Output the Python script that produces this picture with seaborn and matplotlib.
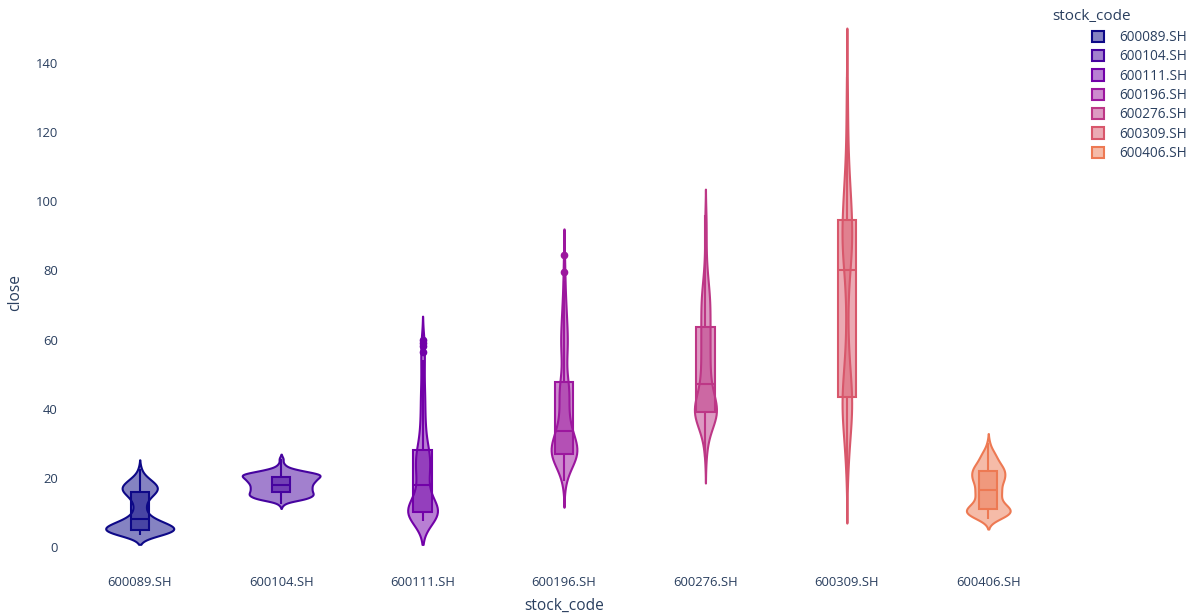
import numpy as np
import pandas as pd
import matplotlib
matplotlib.use("Agg")
import matplotlib.pyplot as plt
import seaborn as sns
from matplotlib.colors import to_rgba
from matplotlib.patches import Patch

# ---- data (close values, with their frequencies) ----
stocks = ["600089.SH", "600104.SH", "600111.SH", "600196.SH",
          "600276.SH", "600309.SH", "600406.SH"]
colors = ["#0d0887", "#46039f", "#7201a8", "#9c179e",
          "#bd3786", "#d8576b", "#ed7953"]

close_600089 = [3.5, 4, 5, 6, 7, 8, 9, 10, 11, 12, 13, 14, 15, 16, 17, 18, 19, 20, 21, 22.5]
count_600089 = [4, 10, 15, 12, 8, 5, 3, 2, 2, 2, 2, 3, 4, 6, 7, 6, 4, 3, 1, 1]

close_600104 = [12.5, 13.5, 14, 15, 16, 17, 18, 19, 20, 21, 22, 23, 24, 25.5]
count_600104 = [1, 2, 8, 11, 10, 10, 10, 11, 12, 14, 7, 2, 1, 1]

close_600111 = [7.5, 8, 9, 10, 11, 12, 13, 14, 16, 18, 20, 22, 24, 26, 28, 30, 33, 36,
                40, 44, 48, 52, 54, 56.5, 58, 59, 60]
count_600111 = [2, 5, 9, 11, 6, 5, 4, 3, 4, 3, 4, 5, 5, 5, 5, 3, 3, 3,
                3, 3, 2, 2, 1, 1, 1, 1, 1]

close_600196 = [19, 21, 23, 25, 26, 27, 28, 29, 30, 31, 32, 33, 34, 36, 38, 40, 42, 44,
                46, 47, 50, 53, 56, 59, 62, 65, 68, 71, 74, 77, 79.6, 84.5]
count_600196 = [1, 2, 3, 5, 6, 9, 5, 5, 4, 3, 3, 4, 3, 3, 3, 3, 3, 3,
                4, 3, 2, 2, 3, 4, 3, 3, 2, 2, 1, 1, 1, 1]

close_600276 = [26, 30, 33, 35, 37, 38, 39, 40, 41, 42, 43, 44, 46, 47, 49, 51, 53, 55,
                57, 59, 61, 63, 65, 67, 69, 71, 73, 75, 77, 80, 84, 88, 92, 96]
count_600276 = [1, 2, 3, 4, 6, 5, 5, 5, 4, 4, 3, 3, 3, 3, 3, 3, 3, 3,
                3, 3, 3, 3, 3, 3, 3, 3, 3, 2, 2, 2, 1, 1, 1, 1]

close_600309 = [21, 24, 27, 30, 33, 36, 38, 40, 42, 44, 46, 48, 51, 54, 58, 62, 66, 70,
                74, 78, 82, 84, 86, 88, 90, 92, 94, 96, 98, 100, 103, 106, 110, 114,
                118, 122, 126, 130, 136]
count_600309 = [1, 1, 2, 2, 3, 4, 4, 4, 4, 4, 4, 3, 3, 2, 2, 1, 1, 1,
                2, 2, 3, 4, 4, 4, 4, 3, 3, 3, 3, 4, 3, 3, 2, 2,
                1, 1, 1, 1, 1]

close_600406 = [8, 9, 10, 11, 12, 13, 14, 15, 16, 17, 18, 19, 20, 21, 22, 23, 24, 25,
                26, 27, 28, 30]
count_600406 = [3, 7, 9, 8, 6, 4, 4, 4, 5, 4, 4, 5, 6, 5, 6, 5, 4, 3,
                3, 2, 2, 1]

y_ticks = [0, 20, 40, 60, 80, 100, 120, 140]

series = {
    "600089.SH": (close_600089, count_600089),
    "600104.SH": (close_600104, count_600104),
    "600111.SH": (close_600111, count_600111),
    "600196.SH": (close_600196, count_600196),
    "600276.SH": (close_600276, count_600276),
    "600309.SH": (close_600309, count_600309),
    "600406.SH": (close_600406, count_600406),
}
frames = []
for s in stocks:
    vals, cnts = series[s]
    frames.append(pd.DataFrame({"stock_code": s,
                                "close": np.repeat(np.array(vals, float), cnts)}))
df = pd.concat(frames, ignore_index=True)

# ---- styling ----
sns.set_theme(style="white")
plt.rcParams["font.family"] = ["Open Sans", "DejaVu Sans"]
text_color = "#2a3f5f"

W, H = 1193, 614
fig = plt.figure(figsize=(W / 100, H / 100), dpi=100)
left, right, top, bottom = 69, 1059, 20, 565
ax = fig.add_axes([left / W, 1 - bottom / H, (right - left) / W, (bottom - top) / H])

sns.violinplot(data=df, x="stock_code", y="close", hue="stock_code",
               order=stocks, hue_order=stocks, palette=colors, dodge=False,
               inner=None, width=0.55, density_norm="area", common_norm=True,
               cut=2, bw_method="scott", bw_adjust=0.6, saturation=1,
               linewidth=1.5, legend=False, ax=ax)
for coll in ax.collections:
    fc = coll.get_facecolor()[0]
    coll.set_facecolor((fc[0], fc[1], fc[2], 0.5))
    coll.set_edgecolor((fc[0], fc[1], fc[2], 1.0))
    coll.set_linewidth(1.5)

for s, c in zip(stocks, colors):
    sub = df[df["stock_code"] == s]
    n_p, n_l = len(ax.patches), len(ax.lines)
    sns.boxplot(data=sub, x="stock_code", y="close", order=stocks, width=0.13,
                color=c, linecolor=c, saturation=1, showcaps=False, whis=1.5,
                linewidth=1.5, fliersize=4.5,
                flierprops=dict(marker="o", markerfacecolor=c, markeredgecolor=c),
                ax=ax)
    for p in ax.patches[n_p:]:
        p.set_facecolor(to_rgba(c, 0.5))
        p.set_edgecolor(c)
        p.set_linewidth(1.5)
    for ln in ax.lines[n_l:]:
        ln.set_color(c)
        ln.set_markerfacecolor(c)
        ln.set_markeredgecolor(c)

ax.set_xlim(-0.5, len(stocks) - 0.5)
ax.set_ylim(-5.2, 152.4)
ax.set_yticks(y_ticks)
ax.set_yticklabels([str(t) for t in y_ticks])
for sp in ax.spines.values():
    sp.set_visible(False)
ax.grid(False)
ax.tick_params(axis="both", length=0, labelsize=9.4, colors=text_color)
ax.tick_params(axis="x", pad=8)
ax.tick_params(axis="y", pad=8)
ax.set_xlabel("stock_code", fontsize=11.2, color=text_color, labelpad=6.5)
ax.set_ylabel("close", fontsize=11.2, color=text_color, labelpad=9)

handles = [Patch(facecolor=to_rgba(c, 0.5), edgecolor=c, linewidth=1.5, label=s)
           for s, c in zip(stocks, colors)]
fig.text(1052 / W, 1 - 17 / H, "stock_code", ha="left", va="center",
         fontsize=11, color=text_color)
fig.legend(handles=handles, loc="upper left", bbox_to_anchor=(1092 / W, 1 - 30 / H),
           frameon=False, handlelength=0.9, handleheight=0.9, handletextpad=1.1,
           labelspacing=0.32, fontsize=9.8, labelcolor=text_color, borderpad=0,
           borderaxespad=0)

fig.savefig("out.png", dpi=100)
